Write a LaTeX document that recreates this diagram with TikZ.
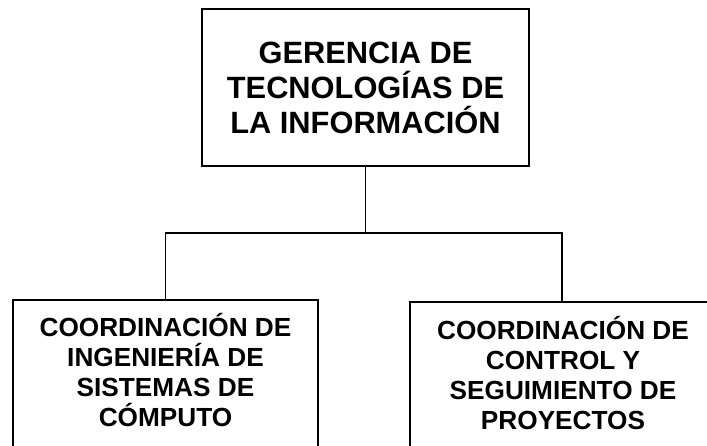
\documentclass[tikz,border=0pt]{standalone}
\usepackage{fontspec}
\setmainfont{Liberation Sans}
\begin{document}
\begin{tikzpicture}[x=1pt,y=-1pt,
  box/.style={draw=black, line width=2pt, fill=white, inner sep=0pt},
  txt/.style={align=center, font=\bfseries\fontsize{26.2}{30}\selectfont, inner sep=0pt},
  conn/.style={draw=black, line width=1.7pt}]
\useasboundingbox (0,0) rectangle (707,445);
\clip (0,0) rectangle (707,445);
\fill[white] (0,0) rectangle (707,445);
\node[box, minimum width=327, minimum height=157, align=center,
  font=\bfseries\fontsize{30.8}{35}\selectfont] (top) at (365.5,87.5)
  {GERENCIA DE\\TECNOLOGÍAS DE\\LA INFORMACIÓN};
\node[box, minimum width=305, minimum height=200, anchor=north] (left) at (165.5,299) {};
\node[txt] (lefttext) at (165.5,370.5) {COORDINACIÓN DE\\INGENIERÍA DE\\SISTEMAS DE\\CÓMPUTO};
\node[box, minimum width=304, minimum height=200, anchor=north] (right) at (562,301) {};
\node[txt] (righttext) at (563,373.5) {COORDINACIÓN DE\\CONTROL Y\\SEGUIMIENTO DE\\PROYECTOS};
\coordinate (bus) at (364,233);
\draw[conn] (top.south) -- (top.south |- bus);
\draw[conn] (left.north) |- (bus) -| (right.north);
\end{tikzpicture}
\end{document}
